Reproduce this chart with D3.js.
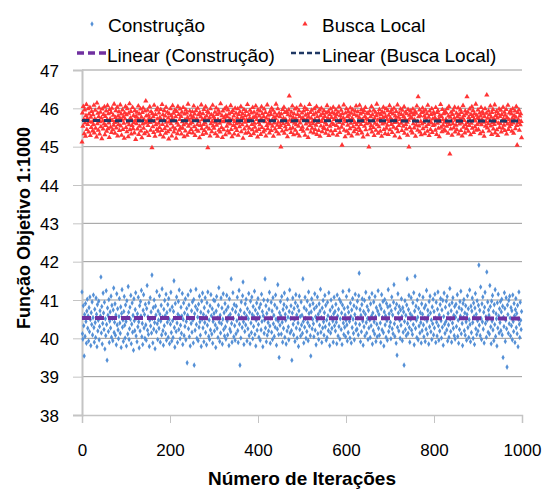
<!DOCTYPE html>
<html><head><meta charset="utf-8">
<script src="https://cdn.jsdelivr.net/npm/d3@7/dist/d3.min.js"></script>
<style>body{margin:0;background:#fff}svg{display:block}text{font-family:"Liberation Sans",Arial,sans-serif;fill:#000}</style>
</head><body>
<script>
const seriesNames = ["Construção", "Busca Local"];
const trendNames = ["Linear (Construção)", "Linear (Busca Local)"];
const yTicks = [38,39,40,41,42,43,44,45,46,47];
const xTicks = [0,200,400,600,800,1000];
const xTitle = "Número de Iterações";
const yTitle = "Função Objetivo 1:1000";
// linear trendline end values (iteration 0 and 1000)
const trendIter = [0, 1000];
const trendConstrucao = [40.53, 40.52];
const trendBuscaLocal = [45.68, 45.67];
const construcao = [
41.21,40.12,39.98,40.85,40.33,39.54,40.62,40.05,40.91,40.44,39.87,40.71,41.02,40.26,40.58,39.93,40.80,40.17,41.08,40.49,39.81,40.67,40.36,40.95,40.09,
40.54,41.13,40.28,39.90,40.76,40.41,40.02,41.05,40.63,39.78,40.88,40.19,40.47,40.97,39.96,40.31,40.72,40.58,41.60,40.14,40.83,39.85,40.39,41.18,40.66,
40.23,40.94,39.72,40.51,40.07,41.24,40.36,39.43,40.79,40.60,40.18,41.01,39.89,40.45,40.69,40.27,41.10,40.03,40.86,40.52,39.94,40.74,41.31,40.15,40.42,
40.90,40.08,40.61,39.83,41.16,40.35,40.77,40.22,39.99,40.57,41.04,40.40,40.13,40.82,39.76,40.65,41.27,40.29,40.48,39.92,40.70,41.09,40.34,40.01,40.87,
40.44,39.80,40.98,40.55,40.11,41.35,40.68,39.97,40.25,40.81,40.50,41.12,39.86,40.37,40.92,40.16,40.60,39.69,41.03,40.46,40.20,40.75,41.19,40.06,40.53,
39.91,40.64,40.30,41.07,40.43,39.75,40.85,40.19,40.96,40.58,41.25,40.04,40.39,39.84,40.73,41.14,40.27,40.62,40.00,40.89,40.35,39.95,40.78,41.38,40.21,
40.56,40.10,40.93,39.79,40.47,41.06,40.32,40.69,40.14,41.65,40.52,39.88,40.80,40.24,41.00,40.41,39.73,40.84,40.61,40.17,41.22,40.38,39.97,40.71,40.48,
40.26,41.11,40.63,39.90,40.45,40.86,40.09,41.29,40.55,40.20,39.82,40.76,40.33,40.99,40.59,40.12,41.15,39.95,40.67,40.42,40.88,40.03,41.04,40.50,39.86,
40.74,40.37,41.20,40.15,39.93,40.82,40.46,40.02,40.70,41.50,40.28,39.77,40.91,40.53,40.18,41.08,40.40,39.89,40.63,40.96,40.23,41.26,40.57,39.99,40.34,
40.81,40.13,40.58,41.17,39.84,40.49,40.92,40.07,40.66,40.31,41.03,39.96,40.44,40.78,39.36,40.60,41.13,40.25,40.87,40.04,40.52,39.80,41.24,40.39,40.72,
40.16,40.95,40.47,39.88,41.01,39.30,40.64,40.21,40.83,41.28,40.36,40.00,40.75,40.55,39.94,40.89,40.29,41.10,40.43,40.08,40.68,39.79,40.97,40.50,41.18,
40.27,40.62,39.91,40.80,40.41,41.06,40.15,40.56,39.83,40.93,40.34,41.21,40.70,40.05,40.48,39.97,40.85,40.22,41.14,40.59,40.11,40.77,39.87,40.44,41.00,
40.65,40.19,40.98,40.35,39.76,40.71,41.09,40.26,40.53,40.02,40.86,41.32,40.42,39.92,40.60,40.14,41.05,40.38,40.79,39.85,40.50,41.16,40.23,40.67,40.06,
40.91,40.30,39.98,40.74,41.12,40.45,40.09,40.82,40.57,39.81,41.03,40.24,40.63,40.17,41.55,40.39,39.90,40.76,41.19,40.52,40.04,40.88,40.33,39.95,40.69,
40.12,40.84,40.46,41.07,40.20,39.89,40.61,41.25,40.37,39.30,40.73,40.01,40.95,40.54,40.28,41.11,41.47,40.43,39.84,40.66,40.18,40.90,40.35,41.02,40.58,
39.93,40.77,40.25,40.51,41.17,40.07,40.68,39.86,40.97,40.40,40.15,41.08,40.62,39.99,40.83,40.31,40.56,41.23,40.10,40.74,39.80,40.47,40.92,40.21,40.64,
41.04,40.36,40.03,40.80,40.55,39.95,40.89,40.22,41.15,40.44,40.70,39.78,40.59,41.00,40.13,40.48,41.55,40.27,40.85,39.91,40.65,40.08,40.99,40.41,40.19,
40.76,41.20,40.32,39.87,40.53,40.94,40.16,40.71,39.97,41.06,40.38,40.60,40.05,40.87,40.29,41.13,40.50,39.82,40.79,40.24,41.40,40.45,40.10,39.50,40.67,
40.34,40.96,40.58,40.11,41.09,40.42,39.90,40.75,40.26,40.88,41.18,40.03,40.63,40.47,39.85,40.81,40.19,41.02,40.55,40.30,39.96,40.70,41.26,40.14,40.52,
40.85,40.20,39.43,40.66,41.05,40.37,40.09,40.78,40.49,39.92,40.93,41.14,40.27,40.61,40.01,40.84,40.40,39.79,40.72,41.10,40.23,40.57,40.06,40.95,40.35,
40.60,40.13,41.55,40.44,39.88,40.80,40.29,41.07,40.52,40.00,40.74,40.18,40.97,40.41,39.94,41.21,40.65,40.32,40.86,40.07,39.54,40.69,41.03,40.25,40.50,
40.91,40.38,40.04,40.77,41.16,40.21,40.56,39.83,40.83,40.46,41.08,40.12,40.63,39.97,40.90,40.34,40.71,41.28,40.16,40.54,39.89,40.79,40.27,40.99,40.43,
40.08,40.67,41.12,40.30,40.86,39.95,40.48,40.02,40.94,40.59,40.20,41.19,40.37,39.81,40.73,40.14,41.00,40.55,40.26,40.82,40.45,39.90,40.64,41.07,40.33,
40.70,40.19,40.89,40.42,39.86,41.13,40.58,40.06,40.76,40.31,41.02,39.98,40.51,40.95,40.23,40.66,39.84,40.87,41.22,40.40,40.10,40.78,40.29,40.61,40.04,
40.47,41.09,40.35,39.93,40.81,40.15,40.68,41.25,40.44,40.01,40.92,40.57,39.88,40.74,40.28,41.04,40.50,40.13,40.85,39.96,40.62,41.15,40.39,40.21,40.79,
40.24,40.97,40.53,40.09,41.11,41.70,40.36,40.75,39.91,40.60,40.17,40.88,41.03,40.45,39.82,40.70,40.30,40.99,40.06,40.63,41.20,40.41,40.14,40.83,40.52,
39.97,40.73,40.27,41.06,40.48,40.02,40.90,40.33,40.58,41.17,39.85,40.66,40.20,40.95,40.43,40.11,41.09,40.56,39.92,40.80,40.37,40.04,40.71,41.24,40.26,
40.62,40.08,40.86,40.40,39.89,40.77,41.14,40.22,40.54,40.96,40.15,39.80,40.69,41.01,40.35,40.59,40.03,40.91,40.46,39.95,40.82,41.27,40.18,40.64,40.31,
40.85,40.42,39.99,40.72,41.08,40.25,40.61,40.12,40.94,41.40,40.38,40.05,40.78,40.51,39.87,40.89,39.56,40.29,41.16,40.66,40.19,40.83,40.47,40.00,40.74,
40.34,41.03,40.57,39.94,40.80,40.16,40.69,39.30,40.44,40.98,40.23,40.60,40.07,40.87,41.55,40.39,40.13,40.75,41.12,40.28,39.90,40.64,40.49,41.06,40.21,
40.58,40.10,40.93,40.36,41.19,39.83,40.71,41.62,40.26,40.84,40.47,40.02,41.00,40.55,39.96,40.78,40.32,41.13,40.14,40.67,40.41,39.88,40.90,40.20,40.63,
41.07,40.35,40.04,40.79,40.52,39.92,40.86,40.24,41.25,40.45,40.11,40.73,40.59,39.85,40.96,40.30,41.10,40.66,40.17,40.48,39.97,40.82,40.38,41.02,40.09,
40.70,40.27,41.15,40.53,39.89,40.94,40.42,40.06,40.76,41.21,40.33,39.95,40.61,40.19,40.88,41.04,40.46,40.01,40.74,40.29,40.99,39.82,40.57,41.18,40.37,
40.13,40.81,40.44,40.97,40.22,41.09,39.93,40.65,40.35,40.03,40.87,41.30,40.50,40.18,40.72,39.90,40.93,40.40,41.06,40.26,40.60,40.07,40.83,39.98,40.55,
40.89,40.31,40.68,41.14,40.05,40.47,39.87,40.80,40.23,40.96,40.58,41.23,40.12,40.75,40.39,39.81,40.91,40.54,41.01,40.20,40.66,40.08,40.85,40.43,39.95,
40.62,41.11,40.28,40.77,40.02,40.49,41.26,40.36,39.91,40.84,40.15,40.71,41.05,40.41,40.00,40.92,40.57,39.84,40.79,41.17,40.25,40.63,40.10,40.98,40.46,
40.19,40.86,41.91,40.34,40.73,40.07,41.34,40.52,39.97,40.90,40.43,41.08,40.24,40.68,39.88,40.81,41.20,40.39,40.56,40.03,41.73,40.47,40.95,40.16,40.74,
40.60,40.11,41.38,40.83,40.30,39.86,40.97,40.45,41.12,40.22,40.70,39.94,40.88,40.36,41.27,40.05,40.64,40.51,39.80,40.93,40.27,41.15,40.58,40.14,40.77,
40.41,40.96,40.20,40.69,41.02,40.09,40.84,39.50,40.55,40.31,41.19,40.78,39.92,40.47,41.06,40.25,39.25,40.87,40.62,40.13,40.99,40.38,41.10,40.53,40.06,
40.80,40.33,40.72,39.96,41.13,40.44,40.18,40.91,40.59,39.89,40.75,41.04,40.28,40.65,40.12,40.86,39.78,40.50,41.21,40.37,40.02,40.94,40.47,40.23,40.70
];
const buscaLocal = [
45.12,45.88,45.53,46.05,45.71,45.34,45.96,45.62,45.27,45.81,46.10,45.45,45.74,45.58,45.99,45.38,45.85,45.66,46.02,45.29,45.77,45.50,45.92,45.64,45.41,
45.83,45.57,46.08,45.36,45.72,45.95,45.48,45.69,45.25,46.14,45.60,45.87,45.43,45.78,46.01,45.33,45.65,45.90,45.52,45.75,45.21,45.98,45.67,45.46,45.84,
45.59,46.04,45.31,45.79,45.55,45.93,45.40,45.70,46.07,45.47,45.86,45.62,45.24,45.97,45.73,45.51,45.89,45.37,46.00,45.68,45.44,45.82,45.56,46.11,45.63,
45.35,45.76,45.94,45.49,45.66,46.03,45.28,45.80,45.58,45.91,45.42,45.74,46.09,45.54,45.85,45.30,45.69,45.96,45.45,45.78,45.61,45.22,45.88,45.72,46.05,
45.50,45.83,45.39,45.99,45.64,45.26,45.87,45.57,46.12,45.44,45.75,45.92,45.33,45.70,45.55,46.02,45.47,45.81,45.63,45.36,45.94,45.68,45.19,45.79,45.60,
45.90,45.46,45.73,46.06,45.32,45.85,45.53,45.67,45.98,45.41,45.77,45.23,45.89,45.59,46.01,45.48,45.71,45.34,45.93,45.62,46.19,45.80,45.38,45.66,45.95,
45.55,45.82,45.29,45.74,46.04,45.63,45.43,45.91,45.69,44.97,45.86,45.52,45.78,45.37,46.08,45.65,45.27,45.84,45.57,45.96,45.45,45.72,46.00,45.40,45.61,
45.88,45.50,45.76,45.31,45.97,45.68,45.42,46.10,45.58,45.83,45.25,45.70,45.94,45.47,45.80,45.35,46.03,45.64,45.54,45.90,45.39,45.75,45.20,45.86,45.66,
45.44,45.99,45.60,45.81,45.28,45.73,46.07,45.51,45.87,45.38,45.67,45.95,45.46,45.78,45.22,45.92,45.62,45.34,46.05,45.56,45.84,45.43,45.71,45.98,45.49,
45.79,45.33,45.90,45.65,45.48,46.02,45.57,45.26,45.85,45.70,45.41,45.96,45.61,45.88,45.30,45.76,46.11,45.53,45.69,45.37,45.93,45.59,45.82,45.45,45.74,
45.63,45.91,45.36,45.77,46.06,45.52,45.85,45.29,45.68,45.94,45.44,45.72,45.57,46.00,45.40,45.83,45.65,45.23,45.89,45.55,45.78,46.09,45.47,45.70,45.32,
45.86,45.58,45.97,45.42,45.74,45.62,46.04,45.35,45.80,45.51,45.92,44.97,45.69,45.88,45.46,45.75,45.28,45.99,45.60,45.83,45.39,45.66,46.08,45.54,45.79,
45.48,45.73,45.90,45.34,45.64,46.01,45.56,45.84,45.27,45.71,45.95,45.43,45.87,45.61,45.38,46.12,45.68,45.50,45.81,45.24,45.93,45.65,45.44,45.76,45.98,
45.67,45.31,45.82,46.03,45.53,45.78,45.41,45.96,45.62,45.85,45.36,45.72,45.59,46.07,45.45,45.89,45.26,45.70,45.94,45.55,45.80,45.33,45.66,46.00,45.49,
45.87,45.60,45.42,45.75,45.99,45.30,45.84,45.63,45.52,45.91,45.68,46.05,45.39,45.77,45.57,45.86,45.22,45.73,45.97,45.46,45.64,45.81,45.35,45.92,45.70,
45.54,46.10,45.66,45.37,45.83,45.48,45.74,45.95,45.29,45.69,45.88,45.58,45.44,46.02,45.76,45.34,45.90,45.61,45.51,45.79,46.06,45.40,45.71,45.85,45.25,
45.96,45.63,45.45,45.80,45.57,45.93,45.32,45.72,46.04,45.50,45.86,45.67,45.38,45.78,45.98,45.43,45.65,45.89,45.28,45.74,45.55,46.09,45.47,45.82,45.61,
45.70,45.36,45.91,45.59,45.84,45.42,46.00,45.68,45.53,45.95,45.27,45.77,45.62,45.88,45.46,45.73,46.11,45.39,45.81,45.56,45.99,45.64,45.33,45.87,45.50,
45.78,45.55,44.99,45.85,45.66,45.41,45.97,45.60,45.74,46.03,45.35,45.89,45.52,45.71,45.44,45.92,45.63,45.26,45.83,45.58,45.96,46.32,45.69,45.47,45.80,
45.37,45.90,45.65,46.06,45.49,45.76,45.31,45.86,45.61,45.98,45.43,45.73,45.57,46.01,45.34,45.84,45.67,45.53,45.94,45.28,45.79,45.62,46.08,45.45,45.72,
45.88,45.51,45.75,45.40,45.93,45.68,46.02,45.30,45.82,45.59,45.70,45.97,45.46,45.85,45.24,45.77,45.64,46.10,45.55,45.89,45.38,45.74,45.95,45.48,45.66,
45.60,45.83,45.36,45.99,45.71,45.45,45.87,45.56,46.05,45.32,45.78,45.63,45.91,45.42,45.69,45.96,45.27,45.81,45.54,46.00,45.66,45.39,45.86,45.73,45.50,
45.94,45.47,45.79,45.62,45.35,45.88,45.57,46.07,45.44,45.74,45.92,45.29,45.68,45.84,45.53,45.98,45.41,45.76,45.61,45.89,45.33,46.03,45.58,45.71,45.85,
45.42,45.77,45.96,45.55,45.83,45.30,45.67,45.90,45.48,46.04,45.63,45.37,45.81,45.72,45.95,45.51,45.04,45.86,45.59,45.75,46.09,45.43,45.69,45.26,45.88,
45.65,45.99,45.40,45.78,45.56,45.92,45.34,45.82,45.70,45.47,46.01,45.61,45.87,45.28,45.74,45.96,45.52,45.68,45.39,45.84,45.63,45.93,45.45,46.06,45.57,
45.80,45.33,45.91,45.64,45.49,45.76,46.08,45.42,45.85,45.58,45.97,45.36,45.71,45.89,45.25,45.66,45.94,45.53,45.79,46.02,45.44,45.73,45.60,45.88,45.31,
45.70,45.86,44.99,45.62,45.93,45.46,45.78,45.55,46.05,45.38,45.83,45.67,45.50,45.95,45.29,45.74,45.61,45.90,45.43,45.81,46.11,45.57,45.69,45.35,45.87,
45.52,45.97,45.73,45.40,45.84,45.65,45.27,45.91,45.59,45.76,46.03,45.45,45.88,45.62,45.34,45.79,45.99,45.48,45.70,45.56,45.94,45.32,45.82,45.66,46.07,
45.44,45.75,45.89,45.58,45.96,45.37,45.68,45.85,45.51,46.00,45.63,45.28,45.80,45.72,45.92,45.47,45.64,46.09,45.39,45.77,45.55,45.87,45.23,45.71,45.98,
45.61,45.84,45.42,45.95,45.67,45.53,45.79,46.04,45.35,45.73,45.90,45.58,45.46,45.86,45.64,45.30,45.97,45.69,44.99,45.82,45.50,45.93,45.76,45.41,45.88,
45.74,45.36,45.98,45.60,45.83,45.49,45.70,45.92,45.27,45.87,45.56,46.06,45.65,45.43,46.30,45.78,45.54,45.96,45.38,45.81,45.66,45.31,45.89,45.59,46.01,
45.47,45.91,45.63,45.80,45.34,45.75,45.95,45.52,45.69,45.86,45.40,46.08,45.58,45.77,45.29,45.93,45.66,45.45,45.84,45.62,45.99,45.37,45.72,45.55,45.90,
45.85,45.57,45.76,45.43,46.02,45.68,45.32,45.89,45.61,45.94,45.48,45.73,45.26,45.82,45.65,46.10,45.51,45.79,45.39,45.97,45.70,45.56,45.86,45.44,45.64,
45.92,45.41,45.71,45.88,45.53,45.99,45.63,45.35,45.80,46.05,45.58,44.81,45.77,45.46,45.90,45.67,45.30,45.84,45.60,45.95,45.49,45.74,46.03,45.38,45.69,
45.56,45.87,45.44,45.78,45.66,46.01,45.33,45.83,45.59,45.72,45.96,45.42,45.89,45.62,45.28,45.75,46.07,45.51,45.81,45.68,45.36,45.93,45.57,45.85,45.47,
46.30,45.63,45.90,45.40,45.76,45.55,45.98,45.69,45.31,45.84,45.61,46.04,45.48,45.79,45.94,45.37,45.71,45.86,45.52,45.67,46.11,45.43,45.82,45.58,45.75,
45.96,45.45,45.73,45.62,45.88,45.34,45.80,46.02,45.57,45.70,45.91,45.39,45.85,45.64,45.27,45.78,45.99,45.53,45.66,45.87,46.35,45.49,45.74,45.60,45.93,
45.41,45.83,45.68,46.06,45.54,45.77,45.32,45.89,45.63,45.97,45.46,45.72,45.58,46.09,45.36,45.81,45.65,45.92,45.44,45.75,45.29,45.86,45.61,45.98,45.50,
45.79,45.60,45.95,45.38,45.84,45.67,45.48,46.03,45.73,45.56,45.90,45.42,45.82,45.65,45.97,45.33,45.76,45.59,46.08,45.45,45.71,45.88,45.52,45.64,45.94,
45.58,45.85,45.40,45.74,45.99,45.62,45.35,45.81,45.68,45.93,45.47,45.77,46.05,45.55,45.04,45.89,45.63,45.70,45.96,45.43,45.80,45.57,45.86,45.66,45.23
];

const W = 544, H = 490;
const svg = d3.select("body").append("svg").attr("width", W).attr("height", H);
const x = d3.scaleLinear().domain([0, 1000]).range([82, 522]);
const y = d3.scaleLinear().domain([38, 47]).range([415, 70]);

// gridlines
svg.append("g").selectAll("line").data(yTicks.filter(v => v > 38)).join("line")
  .attr("x1", x(0)).attr("x2", x(1000)).attr("y1", d => y(d)).attr("y2", d => y(d))
  .attr("stroke", "#9a9a9a").attr("stroke-width", 1);

// y axis
const yAxis = d3.axisLeft(y).tickValues(yTicks).tickSize(9).tickPadding(14).tickFormat(d3.format("d"));
const gy = svg.append("g").attr("transform", `translate(${x(0)},0)`).call(yAxis);
gy.select(".domain").attr("stroke", "#c4c4c4").attr("stroke-width", 2);
gy.selectAll(".tick line").attr("stroke", "#c4c4c4");
gy.selectAll(".tick text").style("font-size", "17px").attr("dy", "0.36em")
  .style("font-family", '"Liberation Sans",Arial,sans-serif').attr("fill", "#000");

// x axis
const xAxis = d3.axisBottom(x).tickValues(xTicks).tickSize(8).tickPadding(21).tickFormat(d3.format("d"));
const gx = svg.append("g").attr("transform", `translate(0,${y(38)})`).call(xAxis);
gx.select(".domain").attr("stroke", "#c4c4c4").attr("stroke-width", 1.5);
gx.selectAll(".tick line").attr("stroke", "#c4c4c4");
gx.selectAll(".tick text").style("font-size", "17px")
  .style("font-family", '"Liberation Sans",Arial,sans-serif').attr("fill", "#000");

// titles
svg.append("text").attr("x", 302).attr("y", 485).attr("text-anchor", "middle")
  .style("font-size", "19px").style("font-weight", "bold").text(xTitle);
svg.append("text").attr("transform", "translate(30,228) rotate(-90)").attr("text-anchor", "middle")
  .style("font-size", "18px").style("font-weight", "bold").text(yTitle);

const blue = "#5590d6", red = "#ff3434", purple = "#7030a0", navy = "#1f3864";
const diamond = d3.symbol().type(d3.symbolDiamond).size(9);
const triangle = d3.symbol().type(d3.symbolTriangle).size(12);

svg.append("g").selectAll("path").data(construcao).join("path")
  .attr("d", diamond).attr("transform", (d, i) => `translate(${x(i)},${y(d)})`).attr("fill", blue);
svg.append("g").selectAll("path").data(buscaLocal).join("path")
  .attr("d", triangle).attr("transform", (d, i) => `translate(${x(i)},${y(d)})`).attr("fill", red);

// linear trendlines
const line = d3.line().x(d => x(d[0])).y(d => y(d[1]));
svg.append("path").datum(trendIter.map((t, i) => [t, trendConstrucao[i]])).attr("d", line).attr("fill", "none")
  .attr("stroke", purple).attr("stroke-width", 4).attr("stroke-dasharray", "9,4");
svg.append("path").datum(trendIter.map((t, i) => [t, trendBuscaLocal[i]])).attr("d", line).attr("fill", "none")
  .attr("stroke", navy).attr("stroke-width", 3).attr("stroke-dasharray", "7,4");

// legend
const lg = svg.append("g").style("font-size", "19px");
lg.append("path").attr("d", diamond).attr("transform", "translate(92,24)").attr("fill", blue);
lg.append("text").attr("x", 108).attr("y", 32).text(seriesNames[0]);
lg.append("path").attr("d", triangle).attr("transform", "translate(305,24)").attr("fill", red);
lg.append("text").attr("x", 322).attr("y", 32).text(seriesNames[1]);
lg.append("line").attr("x1", 77).attr("x2", 106).attr("y1", 53).attr("y2", 53)
  .attr("stroke", purple).attr("stroke-width", 3.5).attr("stroke-dasharray", "7,4");
lg.append("text").attr("x", 107).attr("y", 62).text(trendNames[0]);
lg.append("line").attr("x1", 291).attr("x2", 320).attr("y1", 53).attr("y2", 53)
  .attr("stroke", navy).attr("stroke-width", 2.5).attr("stroke-dasharray", "5,3");
lg.append("text").attr("x", 322).attr("y", 62).text(trendNames[1]);
</script>
</body></html>
